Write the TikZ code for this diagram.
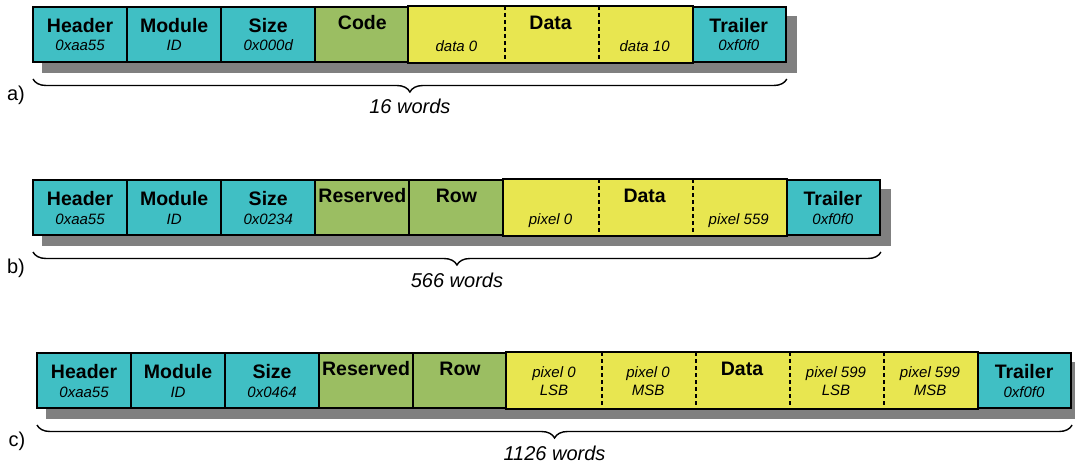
\documentclass[tikz,border=0pt]{standalone}
\usepackage{fontspec}
\setmainfont{Liberation Sans}
\usetikzlibrary{calc,decorations.pathreplacing,backgrounds}
\definecolor{hdrcyan}{RGB}{64,191,196}
\definecolor{ctlgreen}{RGB}{155,190,98}
\definecolor{datayellow}{RGB}{232,230,80}
\definecolor{shadowgray}{RGB}{128,128,128}

\begin{document}
\begin{tikzpicture}[x=1pt, y=-1pt,
  cell/.style={draw, line width=2pt, minimum width=94.1pt, minimum height=55pt, inner sep=0pt, anchor=north west},
  datacell/.style={cell, draw=none, fill=datayellow},
  frame/.style={line width=2pt},
  dashline/.style={line width=2pt, dash pattern=on 4pt off 3pt},
  boxshadow/.style={fill=shadowgray},
  ttl/.style={font=\fontsize{19.5}{22}\selectfont\bfseries, anchor=base, inner sep=0pt},
  subttl/.style={font=\fontsize{15}{17}\selectfont\itshape, anchor=base, inner sep=0pt},
  wordcount/.style={font=\fontsize{20}{22}\selectfont\itshape, anchor=base, inner sep=0pt},
  rowtag/.style={font=\fontsize{20}{22}\selectfont},
  wbrace/.style={decorate, decoration={brace, mirror, amplitude=13pt}, line width=1.4pt}]
  \useasboundingbox (0,0) rectangle (1075,465);

  % row a: 16 words
  \foreach \i/\c in {1/hdrcyan,2/hdrcyan,3/hdrcyan,4/ctlgreen,8/hdrcyan}
    \node[cell, fill=\c] (a\i) at ({32+94.1*(\i-1)},6) {};
  \foreach \i in {5,6,7}
    \node[datacell] (a\i) at ({32+94.1*(\i-1)},6) {};
  \draw[frame] (a5.north west) rectangle (a7.south east);
  \draw[dashline] (a5.north east) -- (a5.south east);
  \draw[dashline] (a6.north east) -- (a6.south east);
  \foreach \i/\hd/\vl in {1/Header/0xaa55, 2/Module/ID, 3/Size/0x000d, 8/Trailer/0xf0f0} {
    \node[ttl] (ta\i) at ([yshift=-26.5pt]a\i.north) {\hd};
    \node[subttl] (sa\i) at ([yshift=-45pt]a\i.north) {\vl};
  }
  \node[ttl] (ta4) at ([yshift=-23.5pt]a4.north) {Code};
  \node[ttl] (ta6) at ([yshift=-23.5pt]a6.north) {Data};
  \node[subttl] (sa5) at ([yshift=-45.5pt]a5.north) {data 0};
  \node[subttl] (sa7) at ([yshift=-45.5pt]a7.north) {data 10};
  \begin{scope}[on background layer]
    \fill[boxshadow] ($(a1.north west)+(10,10)$) rectangle ($(a8.south east)+(10,10)$);
  \end{scope}
  \draw[wbrace] ($(a1.south west)+(1,16)$) -- ($(a8.south east)+(0,16)$)
    node[wordcount, midway, yshift=-35pt] (wa) {16 words};
  \node[rowtag] (la) at (16,95) {a)};

  % row b: 566 words
  \foreach \i/\c in {1/hdrcyan,2/hdrcyan,3/hdrcyan,4/ctlgreen,5/ctlgreen,9/hdrcyan}
    \node[cell, fill=\c] (b\i) at ({32+94.1*(\i-1)},179) {};
  \foreach \i in {6,7,8}
    \node[datacell] (b\i) at ({32+94.1*(\i-1)},179) {};
  \draw[frame] (b6.north west) rectangle (b8.south east);
  \draw[dashline] (b6.north east) -- (b6.south east);
  \draw[dashline] (b7.north east) -- (b7.south east);
  \foreach \i/\hd/\vl in {1/Header/0xaa55, 2/Module/ID, 3/Size/0x0234, 9/Trailer/0xf0f0} {
    \node[ttl] (tb\i) at ([yshift=-26.5pt]b\i.north) {\hd};
    \node[subttl] (sb\i) at ([yshift=-45pt]b\i.north) {\vl};
  }
  \node[ttl] (tb4) at ([yshift=-23.5pt]b4.north) {Reserved};
  \node[ttl] (tb5) at ([yshift=-23.5pt]b5.north) {Row};
  \node[ttl] (tb7) at ([yshift=-23.5pt]b7.north) {Data};
  \node[subttl] (sb6) at ([yshift=-45.5pt]b6.north) {pixel 0};
  \node[subttl] (sb8) at ([yshift=-45.5pt]b8.north) {pixel 559};
  \begin{scope}[on background layer]
    \fill[boxshadow] ($(b1.north west)+(10,10)$) rectangle ($(b9.south east)+(10,10)$);
  \end{scope}
  \draw[wbrace] ($(b1.south west)+(1,16)$) -- ($(b9.south east)+(0,16)$)
    node[wordcount, midway, yshift=-35pt] (wb) {566 words};
  \node[rowtag] (lb) at (16,268) {b)};

  % row c: 1126 words
  \foreach \i/\c in {1/hdrcyan,2/hdrcyan,3/hdrcyan,4/ctlgreen,5/ctlgreen,11/hdrcyan}
    \node[cell, fill=\c] (c\i) at ({36+94*(\i-1)},352) {};
  \foreach \i in {6,...,10}
    \node[datacell, minimum width=94pt] (c\i) at ({36+94*(\i-1)},352) {};
  \draw[frame] (c6.north west) rectangle (c10.south east);
  \foreach \i in {6,...,9}
    \draw[dashline] (c\i.north east) -- (c\i.south east);
  \foreach \i/\hd/\vl in {1/Header/0xaa55, 2/Module/ID, 3/Size/0x0464, 11/Trailer/0xf0f0} {
    \node[ttl] (tc\i) at ([yshift=-26.5pt]c\i.north) {\hd};
    \node[subttl] (sc\i) at ([yshift=-45pt]c\i.north) {\vl};
  }
  \node[ttl] (tc4) at ([yshift=-23.5pt]c4.north) {Reserved};
  \node[ttl] (tc5) at ([yshift=-23.5pt]c5.north) {Row};
  \node[ttl] (tc8) at ([yshift=-23.5pt]c8.north) {Data};
  \foreach \i/\hd/\vl in {6/pixel 0/LSB, 7/pixel 0/MSB, 9/pixel 599/LSB, 10/pixel 599/MSB} {
    \node[subttl] (tc\i) at ([yshift=-25pt]c\i.north) {\hd};
    \node[subttl] (sc\i) at ([yshift=-43pt]c\i.north) {\vl};
  }
  \begin{scope}[on background layer]
    \fill[boxshadow] ($(c1.north west)+(10,10)$) rectangle ($(c11.south east)+(10,10)$);
  \end{scope}
  \draw[wbrace] ($(c1.south west)+(1,16)$) -- ($(c11.south east)+(0,16)$)
    node[wordcount, midway, yshift=-35pt] (wc) {1126 words};
  \node[rowtag] (lc) at (17,441) {c)};
\end{tikzpicture}
\end{document}
